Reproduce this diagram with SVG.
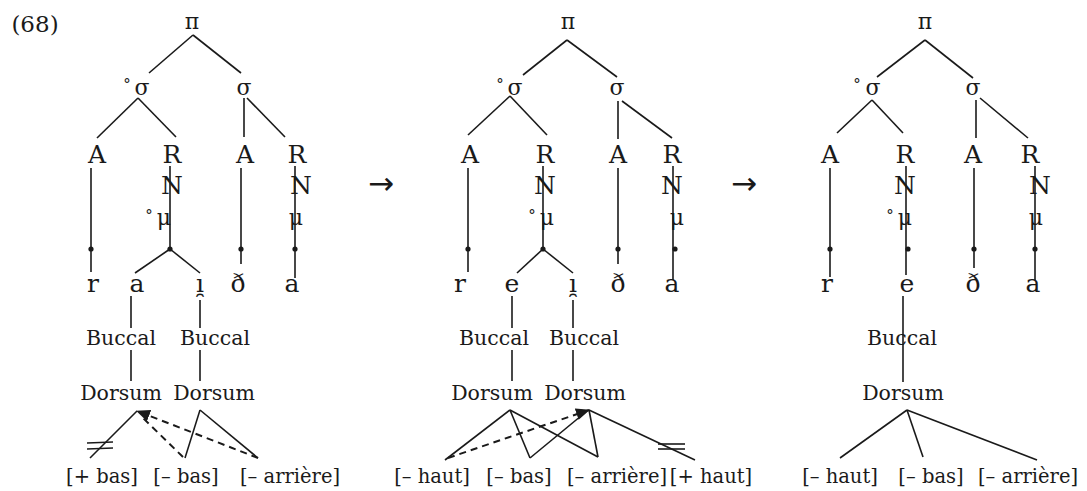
<svg xmlns="http://www.w3.org/2000/svg" width="1087" height="491" viewBox="0 0 1087 491">
<style>
text{font-family:"DejaVu Serif","Liberation Serif",serif;fill:#1a1a1a;text-anchor:middle}
.big{font-size:25px}
.num{font-size:23px}
.mid{font-size:22px}
.sm{font-size:20.5px}
.ft{font-size:19.5px}
.deg{font-size:15px}
.arr{font-size:31px;font-family:"DejaVu Sans",sans-serif}
.ln{stroke:#1a1a1a;stroke-width:1.6;fill:none}
.dash{stroke:#1a1a1a;stroke-width:2;fill:none;stroke-dasharray:7 5}
.dot{fill:#1a1a1a}
</style>
<defs>
<marker id="ah" markerUnits="userSpaceOnUse" markerWidth="14" markerHeight="12" refX="13" refY="6" orient="auto">
<path d="M0,0 L14,6 L0,12 z" fill="#1a1a1a"/>
</marker>
</defs>
<rect width="1087" height="491" fill="#fff"/>
<g id="label-68"><text x="35" y="32" class="num">(68)</text></g>
<g id="arrow-1"><text x="381" y="194" class="arr">→</text></g>
<g id="arrow-2"><text x="744" y="194" class="arr">→</text></g>

<g id="connectors">
<!-- tree 1 -->
<line class="ln" x1="193" y1="35" x2="149" y2="73"/>
<line class="ln" x1="193" y1="35" x2="241" y2="73"/>
<line class="ln" x1="138" y1="98" x2="97" y2="138"/>
<line class="ln" x1="138" y1="98" x2="176" y2="137"/>
<line class="ln" x1="244" y1="98" x2="244" y2="137"/>
<line class="ln" x1="247" y1="98" x2="285" y2="137"/>
<line class="ln" x1="91" y1="168" x2="91" y2="272"/>
<line class="ln" x1="170" y1="166" x2="170" y2="249"/>
<line class="ln" x1="170" y1="249" x2="135" y2="273"/>
<line class="ln" x1="170" y1="249" x2="200" y2="273"/>
<line class="ln" x1="241" y1="168" x2="241" y2="264"/>
<line class="ln" x1="295" y1="166" x2="295" y2="278"/>
<line class="ln" x1="131" y1="296" x2="131" y2="328"/>
<line class="ln" x1="200" y1="300" x2="200" y2="328"/>
<line class="ln" x1="131" y1="350" x2="131" y2="381"/>
<line class="ln" x1="200" y1="350" x2="200" y2="381"/>
<line class="ln" x1="137" y1="411" x2="90" y2="458"/>
<line class="ln" x1="87" y1="443" x2="113" y2="442"/>
<line class="ln" x1="87" y1="449" x2="113" y2="448"/>
<line class="dash" x1="183" y1="457" x2="143" y2="418"/>
<line class="dash" x1="258" y1="458" x2="137" y2="411" marker-end="url(#ah)"/>
<line class="ln" x1="200" y1="410" x2="185" y2="458"/>
<line class="ln" x1="200" y1="410" x2="258" y2="458"/>
<!-- tree 2 -->
<line class="ln" x1="567" y1="40" x2="523" y2="75"/>
<line class="ln" x1="567" y1="40" x2="617" y2="77"/>
<line class="ln" x1="510" y1="96" x2="468" y2="135"/>
<line class="ln" x1="510" y1="96" x2="547" y2="135"/>
<line class="ln" x1="618" y1="101" x2="618" y2="139"/>
<line class="ln" x1="622" y1="101" x2="672" y2="138"/>
<line class="ln" x1="468" y1="168" x2="468" y2="272"/>
<line class="ln" x1="543" y1="166" x2="543" y2="249"/>
<line class="ln" x1="543" y1="249" x2="517" y2="273"/>
<line class="ln" x1="543" y1="249" x2="573" y2="273"/>
<line class="ln" x1="618" y1="168" x2="618" y2="264"/>
<line class="ln" x1="673" y1="166" x2="673" y2="280"/>
<line class="ln" x1="512" y1="296" x2="512" y2="328"/>
<line class="ln" x1="573" y1="300" x2="573" y2="328"/>
<line class="ln" x1="512" y1="350" x2="512" y2="381"/>
<line class="ln" x1="573" y1="350" x2="573" y2="381"/>
<line class="ln" x1="510" y1="410" x2="445" y2="460"/>
<line class="ln" x1="510" y1="410" x2="530" y2="458"/>
<line class="ln" x1="510" y1="410" x2="598" y2="457"/>
<line class="ln" x1="530" y1="458" x2="587" y2="411"/>
<line class="ln" x1="589" y1="410" x2="598" y2="457"/>
<line class="ln" x1="589" y1="410" x2="695" y2="460"/>
<line class="ln" x1="658" y1="444" x2="685" y2="444"/>
<line class="ln" x1="658" y1="449" x2="685" y2="449"/>
<line class="dash" x1="448" y1="458" x2="589" y2="410" marker-end="url(#ah)"/>
<!-- tree 3 -->
<line class="ln" x1="925" y1="40" x2="877" y2="77"/>
<line class="ln" x1="925" y1="40" x2="973" y2="78"/>
<line class="ln" x1="872" y1="100" x2="837" y2="133"/>
<line class="ln" x1="872" y1="100" x2="903" y2="133"/>
<line class="ln" x1="976" y1="100" x2="976" y2="138"/>
<line class="ln" x1="980" y1="98" x2="1028" y2="138"/>
<line class="ln" x1="830" y1="168" x2="830" y2="277"/>
<line class="ln" x1="906" y1="166" x2="906" y2="275"/>
<line class="ln" x1="974" y1="168" x2="974" y2="268"/>
<line class="ln" x1="1035" y1="166" x2="1035" y2="280"/>
<line class="ln" x1="903" y1="296" x2="903" y2="382"/>
<line class="ln" x1="907" y1="410" x2="840" y2="458"/>
<line class="ln" x1="907" y1="410" x2="923" y2="457"/>
<line class="ln" x1="907" y1="410" x2="1037" y2="460"/>
<!-- dots -->
<circle class="dot" cx="91" cy="249" r="2.6"/>
<circle class="dot" cx="170" cy="249" r="2.6"/>
<circle class="dot" cx="241" cy="249" r="2.6"/>
<circle class="dot" cx="295" cy="249" r="2.6"/>
<circle class="dot" cx="468" cy="249" r="2.6"/>
<circle class="dot" cx="543" cy="249" r="2.6"/>
<circle class="dot" cx="618" cy="249" r="2.6"/>
<circle class="dot" cx="675" cy="249" r="2.6"/>
<circle class="dot" cx="830" cy="249" r="2.6"/>
<circle class="dot" cx="908" cy="249" r="2.6"/>
<circle class="dot" cx="974" cy="249" r="2.6"/>
<circle class="dot" cx="1035" cy="249" r="2.6"/>
</g>

<!-- tree 1 nodes -->
<g id="t1-pi"><text x="192" y="29" class="mid">π</text></g>
<g id="t1-sigma1"><text x="127" y="89" class="deg">°</text><text x="142" y="95" class="mid">σ</text></g>
<g id="t1-sigma2"><text x="244" y="95" class="mid">σ</text></g>
<g id="t1-A1"><text x="97" y="163" class="big">A</text></g>
<g id="t1-R1"><text x="172" y="163" class="big">R</text></g>
<g id="t1-A2"><text x="245" y="163" class="big">A</text></g>
<g id="t1-R2"><text x="297" y="163" class="big">R</text></g>
<g id="t1-N1"><text x="172" y="194" class="big">N</text></g>
<g id="t1-N2"><text x="301" y="194" class="big">N</text></g>
<g id="t1-mu1"><text x="149" y="220" class="deg">°</text><text x="164" y="225" class="mid">μ</text></g>
<g id="t1-mu2"><text x="296" y="225" class="mid">μ</text></g>
<g id="t1-r"><text x="93" y="292" class="big">r</text></g>
<g id="t1-a"><text x="137" y="292" class="big">a</text></g>
<g id="t1-i"><text x="200" y="292" class="big">ı̯</text></g>
<g id="t1-eth"><text x="238" y="292" class="big">ð</text></g>
<g id="t1-a2"><text x="292" y="292" class="big">a</text></g>
<g id="t1-buccal1"><text x="121" y="345" class="sm">Buccal</text></g>
<g id="t1-buccal2"><text x="215" y="345" class="sm">Buccal</text></g>
<g id="t1-dorsum1"><text x="121" y="400" class="sm">Dorsum</text></g>
<g id="t1-dorsum2"><text x="214" y="400" class="sm">Dorsum</text></g>
<g id="t1-f1"><text x="102" y="483" class="ft">[+ bas]</text></g>
<g id="t1-f2"><text x="186" y="483" class="ft">[– bas]</text></g>
<g id="t1-f3"><text x="290" y="483" class="ft">[– arrière]</text></g>

<!-- tree 2 nodes -->
<g id="t2-pi"><text x="568" y="29" class="mid">π</text></g>
<g id="t2-sigma1"><text x="500" y="89" class="deg">°</text><text x="515" y="95" class="mid">σ</text></g>
<g id="t2-sigma2"><text x="617" y="95" class="mid">σ</text></g>
<g id="t2-A1"><text x="470" y="163" class="big">A</text></g>
<g id="t2-R1"><text x="545" y="163" class="big">R</text></g>
<g id="t2-A2"><text x="618" y="163" class="big">A</text></g>
<g id="t2-R2"><text x="672" y="163" class="big">R</text></g>
<g id="t2-N1"><text x="545" y="194" class="big">N</text></g>
<g id="t2-N2"><text x="672" y="194" class="big">N</text></g>
<g id="t2-mu1"><text x="532" y="220" class="deg">°</text><text x="547" y="225" class="mid">μ</text></g>
<g id="t2-mu2"><text x="677" y="225" class="mid">μ</text></g>
<g id="t2-r"><text x="460" y="292" class="big">r</text></g>
<g id="t2-e"><text x="512" y="292" class="big">e</text></g>
<g id="t2-i"><text x="573" y="292" class="big">ı̯</text></g>
<g id="t2-eth"><text x="618" y="292" class="big">ð</text></g>
<g id="t2-a"><text x="672" y="292" class="big">a</text></g>
<g id="t2-buccal1"><text x="494" y="345" class="sm">Buccal</text></g>
<g id="t2-buccal2"><text x="584" y="345" class="sm">Buccal</text></g>
<g id="t2-dorsum1"><text x="492" y="400" class="sm">Dorsum</text></g>
<g id="t2-dorsum2"><text x="585" y="400" class="sm">Dorsum</text></g>
<g id="t2-f1"><text x="432" y="483" class="ft">[– haut]</text></g>
<g id="t2-f2"><text x="519" y="483" class="ft">[– bas]</text></g>
<g id="t2-f3"><text x="617" y="483" class="ft">[– arrière]</text></g>
<g id="t2-f4"><text x="711" y="483" class="ft">[+ haut]</text></g>

<!-- tree 3 nodes -->
<g id="t3-pi"><text x="925" y="29" class="mid">π</text></g>
<g id="t3-sigma1"><text x="857" y="89" class="deg">°</text><text x="873" y="95" class="mid">σ</text></g>
<g id="t3-sigma2"><text x="973" y="95" class="mid">σ</text></g>
<g id="t3-A1"><text x="830" y="163" class="big">A</text></g>
<g id="t3-R1"><text x="905" y="163" class="big">R</text></g>
<g id="t3-A2"><text x="973" y="163" class="big">A</text></g>
<g id="t3-R2"><text x="1030" y="163" class="big">R</text></g>
<g id="t3-N1"><text x="905" y="194" class="big">N</text></g>
<g id="t3-N2"><text x="1040" y="194" class="big">N</text></g>
<g id="t3-mu1"><text x="890" y="220" class="deg">°</text><text x="905" y="225" class="mid">μ</text></g>
<g id="t3-mu2"><text x="1036" y="225" class="mid">μ</text></g>
<g id="t3-r"><text x="827" y="292" class="big">r</text></g>
<g id="t3-e"><text x="907" y="292" class="big">e</text></g>
<g id="t3-eth"><text x="973" y="292" class="big">ð</text></g>
<g id="t3-a"><text x="1033" y="292" class="big">a</text></g>
<g id="t3-buccal"><text x="902" y="345" class="sm">Buccal</text></g>
<g id="t3-dorsum"><text x="903" y="400" class="sm">Dorsum</text></g>
<g id="t3-f1"><text x="840" y="483" class="ft">[– haut]</text></g>
<g id="t3-f2"><text x="931" y="483" class="ft">[– bas]</text></g>
<g id="t3-f3"><text x="1028" y="483" class="ft">[– arrière]</text></g>
</svg>
